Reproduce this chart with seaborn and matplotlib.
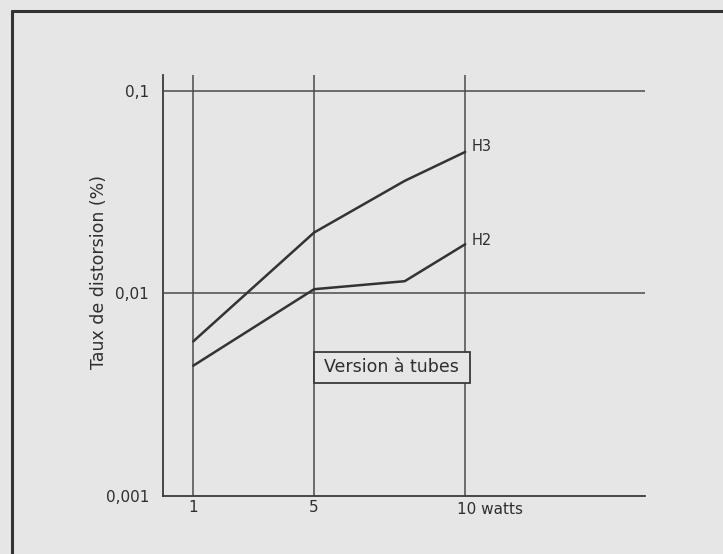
import pandas as pd
import matplotlib.pyplot as plt
import seaborn as sns
from matplotlib.lines import Line2D
from matplotlib.patches import Rectangle

# Données
watts = [1, 5, 8, 10]
h3 = [0.0058, 0.020, 0.036, 0.050]
h2 = [0.0044, 0.0105, 0.0115, 0.0175]
series = ["H3", "H2"]
y_ticks = [0.001, 0.01, 0.1]
y_labels = ["0,001", "0,01", "0,1"]
x_ticks = [1, 5, 10]
x_labels = ["1", "5", ""]

df = pd.DataFrame({
    "watts": watts * 2,
    "taux": h3 + h2,
    "serie": ["H3"] * len(watts) + ["H2"] * len(watts),
})

sns.set_theme(style="white")
plt.rcParams["font.family"] = ["DejaVu Sans"]

ink = "#333333"
txt = "#2e2e2e"
paper = "#e6e6e6"

fig = plt.figure(figsize=(7.23, 5.54), dpi=100)
fig.patch.set_facecolor(paper)
ax = fig.add_axes([0.2255, 0.1047, 0.6665, 0.76])
ax.set_facecolor(paper)

sns.lineplot(data=df, x="watts", y="taux", hue="serie", hue_order=series,
             palette=[ink, ink], linewidth=1.8, legend=False, ax=ax)

ax.set_yscale("log")
ax.set_xlim(0, 15.95)
ax.set_ylim(0.001, 0.12)

# grille : verticales a 1, 5, 10 et horizontales a 0,1 et 0,01
for xv in x_ticks:
    ax.axvline(xv, color="#4a4a4a", linewidth=1.1, zorder=1)
for yv in y_ticks[1:]:
    ax.axhline(yv, color="#4a4a4a", linewidth=1.1, zorder=1)

for side in ["top", "right"]:
    ax.spines[side].set_visible(False)
for side in ["left", "bottom"]:
    ax.spines[side].set_color("#3a3a3a")
    ax.spines[side].set_linewidth(1.3)

ax.set_yticks(y_ticks)
ax.set_yticklabels(y_labels)
ax.yaxis.set_minor_locator(plt.NullLocator())
ax.set_xticks(x_ticks)
ax.set_xticklabels(x_labels)
ax.tick_params(length=0, labelsize=11, colors=txt, pad=10)
ax.tick_params(axis="x", pad=3)

ax.set_xlabel("")
ax.set_ylabel("Taux de distorsion (%)", fontsize=12.5, color=txt)
ax.yaxis.set_label_coords(-0.115, 0.532)

ax.annotate("10 watts", xy=(10, 0.001), xytext=(-6, -4), textcoords="offset points",
            ha="left", va="top", fontsize=11, color=txt, annotation_clip=False)

# etiquettes des courbes
ax.annotate("H3", xy=(10, h3[-1]), xytext=(5, 4), textcoords="offset points",
            fontsize=10.5, color=txt, va="center")
ax.annotate("H2", xy=(10, h2[-1]), xytext=(5, 3), textcoords="offset points",
            fontsize=10.5, color=txt, va="center")

# encadre "Version a tubes", cale sur la verticale 5 W
ax.add_patch(Rectangle((5, 0.00363), 5.15, 0.00512 - 0.00363, facecolor=paper,
                       edgecolor="#3a3a3a", linewidth=1.3, zorder=3))
ax.text(7.57, 0.00432, "Version à tubes", ha="center", va="center", fontsize=12.5,
        color=txt, zorder=4)

# cadre du document scanne
fig.add_artist(Line2D([0.0166, 1.0], [0.980, 0.980], color="#333333", linewidth=2.2))
fig.add_artist(Line2D([0.0166, 0.0166], [0.0, 0.980], color="#333333", linewidth=2.2))

fig.savefig("out.png", dpi=100, facecolor=paper)
